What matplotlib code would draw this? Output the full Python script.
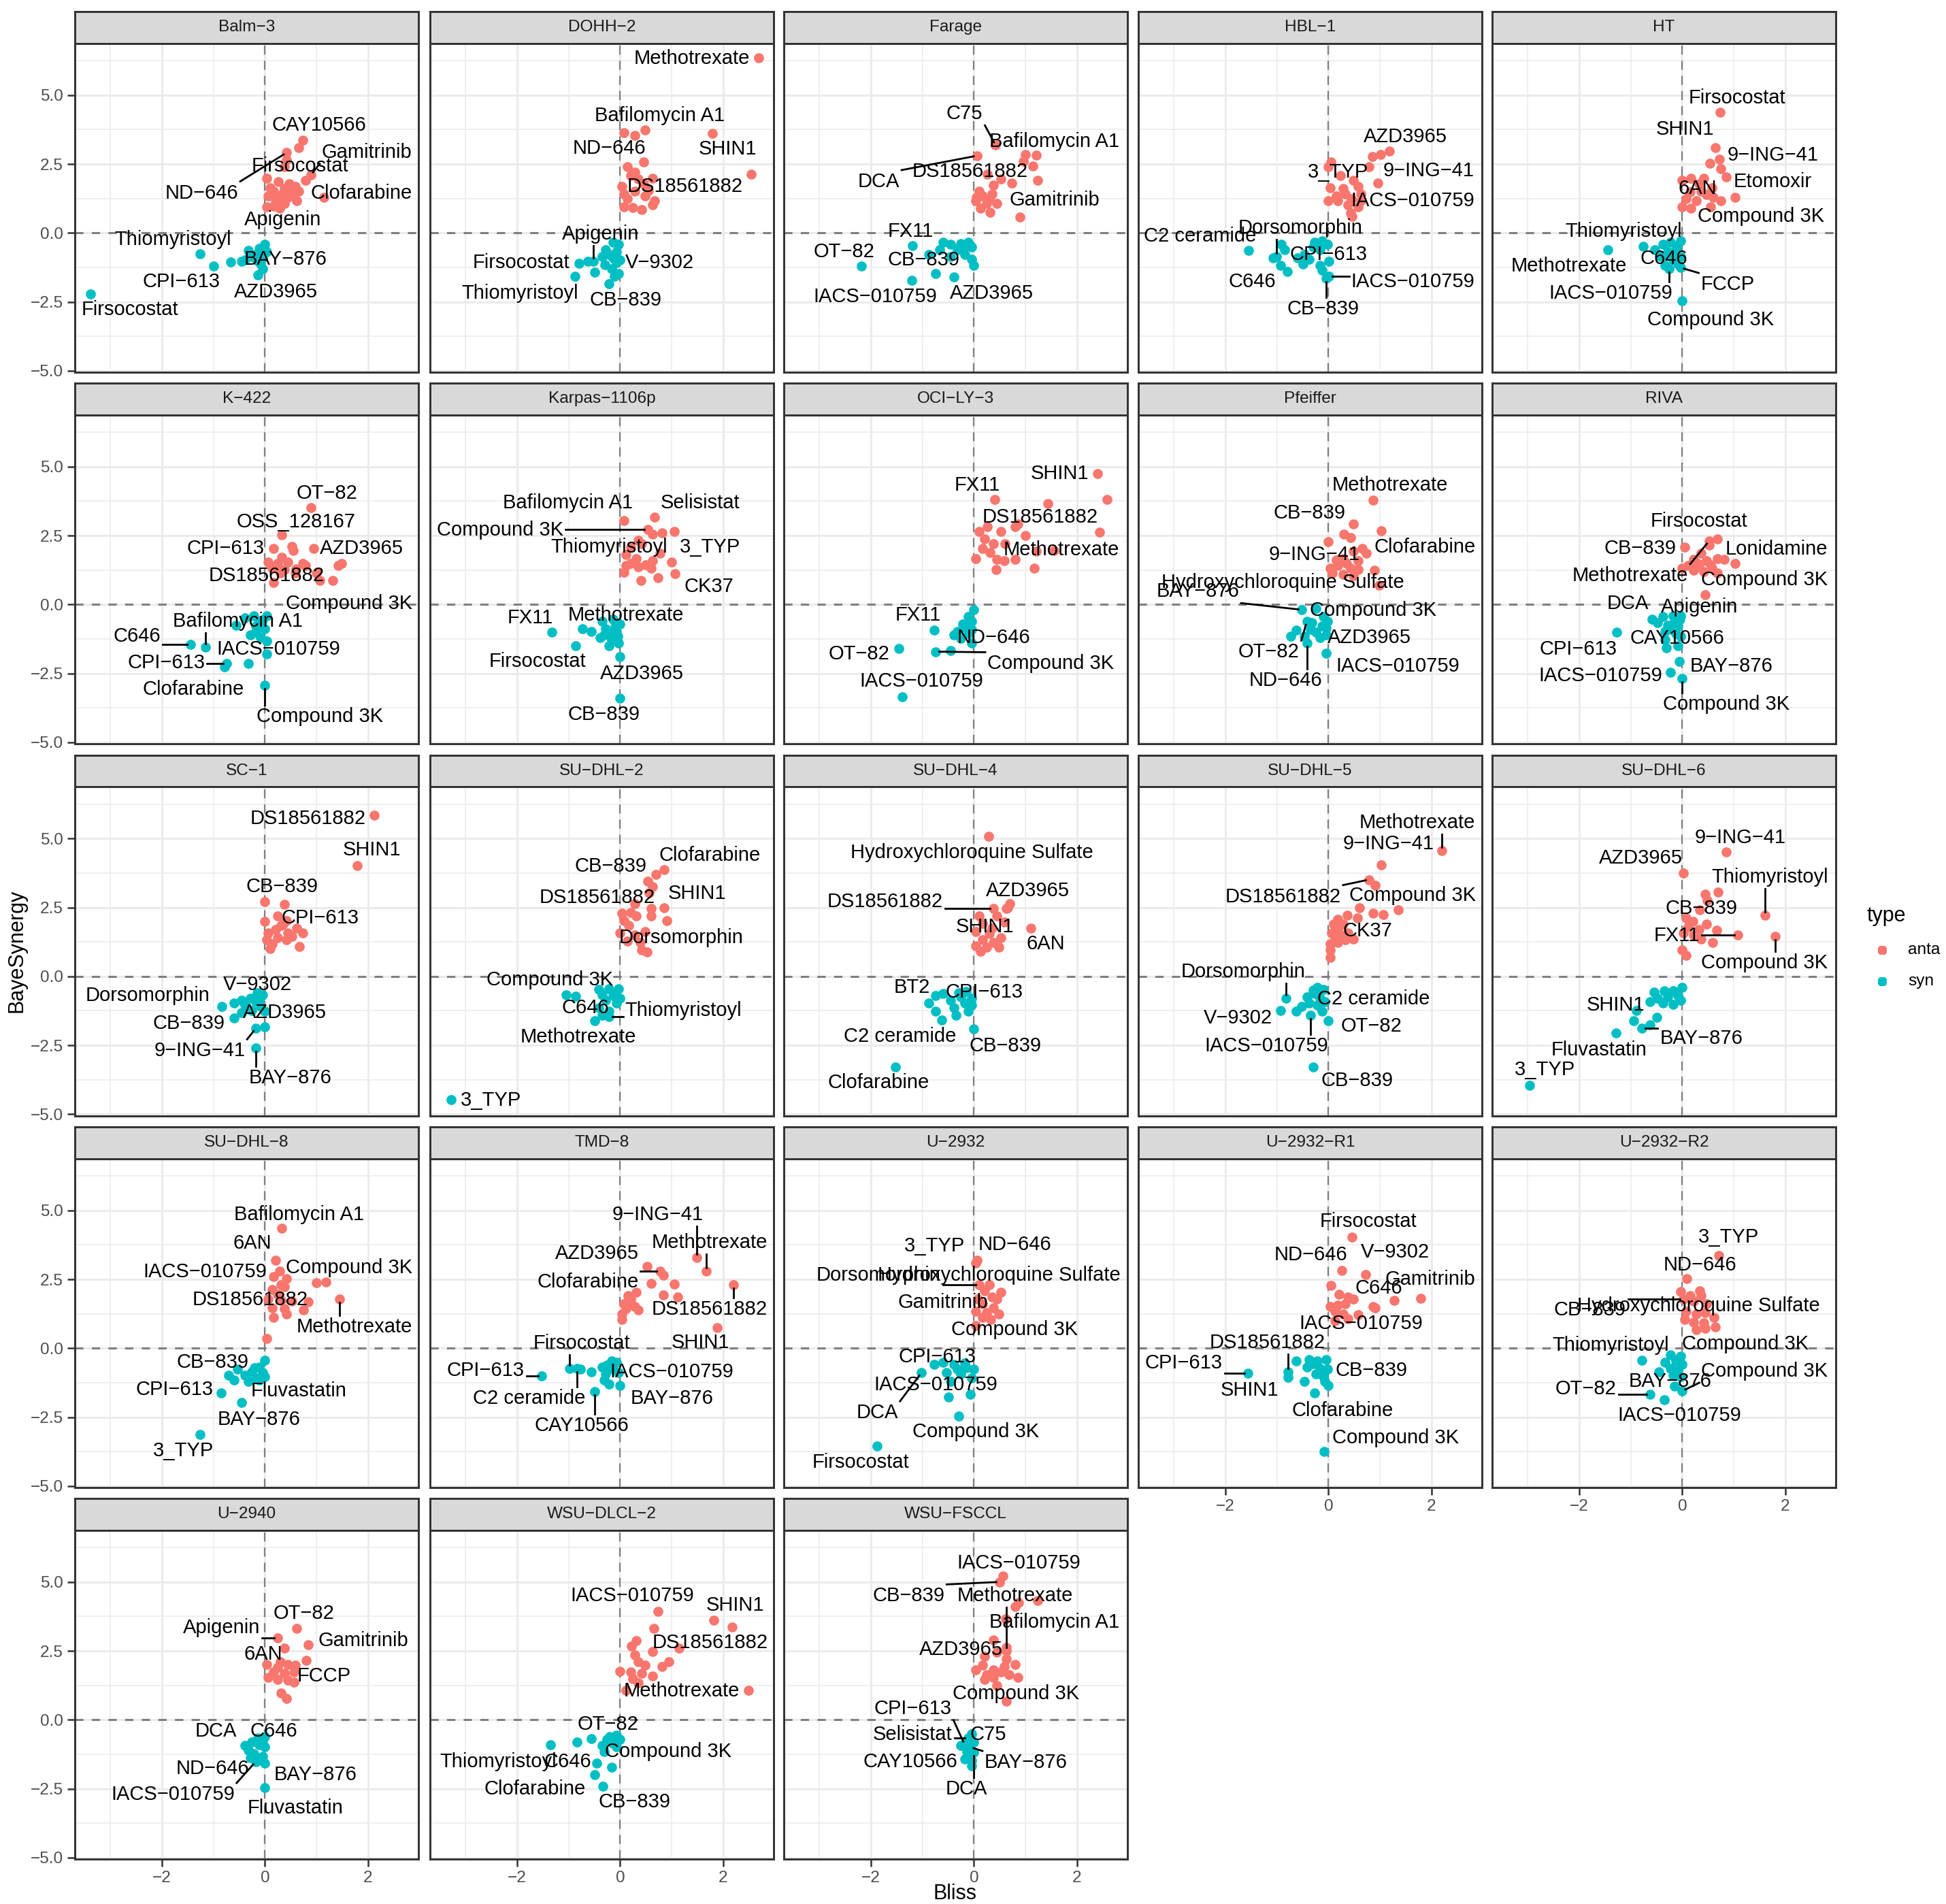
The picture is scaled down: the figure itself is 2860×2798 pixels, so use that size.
import matplotlib
matplotlib.use("Agg")
import matplotlib.pyplot as plt
import numpy as np

plt.rcParams['font.family'] = ['Liberation Sans', 'DejaVu Sans']

# ---------------- data ----------------
CELL_LINES = ["Balm-3", "DOHH-2", "Farage", "HBL-1", "HT", "K-422", "Karpas-1106p",
              "OCI-LY-3", "Pfeiffer", "RIVA", "SC-1", "SU-DHL-2", "SU-DHL-4",
              "SU-DHL-5", "SU-DHL-6", "SU-DHL-8", "TMD-8", "U-2932", "U-2932-R1",
              "U-2932-R2", "U-2940", "WSU-DLCL-2", "WSU-FSCCL"]
TYPES = ["anta", "syn"]
X_TICKS = [-2, 0, 2]
Y_TICKS = [-5.0, -2.5, 0.0, 2.5, 5.0]
Y_TICK_LABELS = ["-5.0", "-2.5", "0.0", "2.5", "5.0"]

# unlabeled points (Bliss, BayeSynergy)
ANTA = {
 "Balm-3": [(0.66,3.09),(0.38,2.39),(0.03,1.97),(0.26,1.86),(0.59,1.69),(0.79,1.91),(0.10,1.64),(0.17,1.51),(0.38,1.60),(0.52,1.47),(0.06,1.34),(0.28,1.25),(0.45,1.29),(0.61,1.16),(0.38,1.07),(0.17,0.98),(0.03,0.94),(0.47,1.78),(0.66,1.51),(0.20,1.20),(0.33,1.40)],
 "DOHH-2": [(0.28,3.53),(0.46,2.58),(0.14,2.39),(0.28,2.21),(0.21,2.08),(0.63,1.99),(0.03,1.69),(0.07,1.42),(0.28,1.51),(0.49,1.34),(0.14,1.25),(0.67,1.16),(0.63,1.03),(0.07,0.94),(0.25,0.91),(0.42,0.85),(2.54,2.14),(0.35,1.95),(0.55,1.55)],
 "Farage": [(1.21,2.83),(1.14,2.43),(0.96,2.61),(1.24,1.91),(0.73,1.82),(0.38,1.73),(0.10,1.51),(0.35,1.42),(0.17,1.34),(0.03,1.16),(0.24,1.07),(0.13,0.90),(0.31,0.76),(0.89,0.57),(0.52,1.95),(0.05,1.30),(0.30,1.20)],
 "HBL-1": [(1.01,2.85),(0.86,2.76),(0.00,2.39),(0.79,2.39),(0.23,2.08),(0.48,1.91),(0.03,1.64),(0.28,1.60),(0.58,1.69),(0.00,1.16),(0.18,1.16),(0.38,1.03),(0.58,0.94),(0.43,0.72),(0.46,0.59),(0.33,1.42),(0.63,1.42),(0.45,1.25),(0.15,1.35)],
 "HT": [(0.54,2.52),(0.75,2.33),(0.00,1.91),(0.42,1.99),(0.32,1.78),(0.57,1.64),(0.07,1.25),(0.27,1.16),(0.47,1.38),(0.75,1.16),(0.00,0.94),(0.17,0.90),(0.55,0.94),(0.37,1.51),(0.15,1.50),(0.60,1.30)],
 "K-422": [(0.52,2.11),(0.33,1.71),(0.06,1.54),(0.24,1.49),(0.45,1.54),(0.73,1.49),(0.79,1.41),(0.14,1.32),(0.38,1.27),(1.00,1.14),(1.49,1.49),(1.42,1.41),(0.17,0.79),(1.07,0.88),(0.55,1.95),(0.30,1.15),(0.60,1.30)],
 "Karpas-1106p": [(0.81,2.59),(0.63,2.55),(0.35,2.33),(0.42,2.20),(0.11,1.80),(0.31,1.67),(0.77,1.85),(1.00,1.54),(0.63,1.58),(0.11,1.41),(0.35,1.36),(0.60,1.32),(0.07,1.16),(0.73,0.97),(0.40,0.86),(0.20,1.50),(0.50,1.45)],
 "OCI-LY-3": [(2.58,3.81),(2.44,2.62),(0.10,2.64),(0.26,2.83),(0.52,2.64),(0.80,2.83),(0.86,2.92),(1.00,2.50),(0.21,2.37),(0.38,2.20),(0.17,2.02),(0.31,1.89),(0.03,1.67),(0.45,1.63),(0.80,1.63),(0.59,1.58),(0.43,1.27),(1.17,1.32),(1.21,1.93),(0.60,2.20)],
 "Pfeiffer": [(0.30,2.55),(0.43,2.42),(0.00,2.28),(0.66,2.02),(0.74,1.85),(0.48,1.93),(0.58,1.58),(0.89,1.23),(0.03,1.32),(0.18,1.41),(0.43,1.32),(0.58,1.27),(0.08,1.14),(0.28,1.10),(0.48,1.05),(0.35,1.50),(0.15,1.60)],
 "RIVA": [(0.52,2.16),(0.37,1.85),(0.22,1.63),(0.47,1.58),(0.68,1.67),(0.81,1.63),(0.12,1.41),(0.32,1.36),(0.57,1.32),(0.00,1.32),(0.22,1.23),(0.42,1.19),(0.68,1.14),(0.30,1.50),(0.55,1.45)],
 "SC-1": [(0.38,2.61),(0.00,2.00),(0.24,2.19),(0.31,1.84),(0.06,1.58),(0.20,1.71),(0.45,1.58),(0.61,1.75),(0.73,1.58),(0.03,1.32),(0.24,1.40),(0.42,1.32),(0.14,1.18),(0.10,1.01),(0.67,1.07),(0.52,1.45),(0.35,1.90)],
 "SU-DHL-2": [(0.53,3.44),(0.63,3.25),(0.56,3.03),(0.60,2.46),(0.03,2.28),(0.21,2.32),(0.31,2.19),(0.07,2.02),(0.60,2.19),(0.91,2.02),(0.17,1.84),(0.00,1.58),(0.28,1.49),(0.49,1.62),(0.14,1.27),(0.52,0.88),(0.42,0.96)],
 "SU-DHL-4": [(0.63,2.46),(0.45,2.19),(0.10,2.19),(0.59,1.97),(0.17,1.93),(0.03,1.62),(0.52,1.40),(0.17,1.32),(0.38,1.23),(0.03,1.10),(0.24,1.05),(0.49,1.05),(0.13,0.92),(0.66,2.50),(0.30,1.55)],
 "SU-DHL-5": [(0.60,2.50),(0.87,2.28),(1.07,2.24),(1.35,2.41),(0.36,2.21),(0.56,2.11),(0.18,2.06),(0.06,1.58),(0.18,1.71),(0.38,1.58),(0.13,1.40),(0.33,1.32),(0.48,1.36),(0.03,1.18),(0.18,1.23),(0.03,0.96),(0.03,0.68),(0.25,1.50),(0.10,1.90)],
 "SU-DHL-6": [(0.70,3.05),(0.45,2.98),(0.49,2.76),(0.07,2.11),(0.47,1.89),(0.12,1.80),(0.32,1.71),(0.67,1.67),(0.02,1.58),(0.22,1.49),(0.37,1.36),(0.59,1.23),(0.00,0.96),(0.07,0.75),(0.20,2.00)],
 "SU-DHL-8": [(1.19,2.41),(0.17,2.61),(0.42,2.53),(0.31,2.31),(0.14,2.13),(0.38,2.22),(0.06,1.78),(0.52,1.71),(0.84,1.69),(0.14,1.47),(0.38,1.43),(0.75,1.39),(0.42,1.25),(0.17,1.12),(0.03,0.35),(0.25,1.95)],
 "TMD-8": [(0.84,2.66),(0.60,2.35),(1.05,2.32),(0.31,2.04),(0.84,1.94),(1.12,1.87),(0.21,1.78),(0.07,1.61),(0.28,1.52),(0.11,1.43),(0.35,1.39),(0.03,1.25),(0.03,1.04),(0.20,1.65),(0.15,1.90)],
 "U-2932": [(0.52,2.04),(0.35,1.87),(0.07,1.78),(0.45,1.78),(0.17,1.61),(0.38,1.47),(0.03,1.34),(0.49,1.25),(0.17,1.12),(0.33,1.04),(0.30,2.30)],
 "U-2932-R1": [(0.05,2.29),(0.21,1.96),(0.38,1.87),(0.48,1.78),(0.03,1.52),(0.18,1.56),(0.33,1.61),(0.87,1.52),(0.13,1.34),(0.58,1.21),(0.38,1.08),(0.13,0.99),(0.91,1.47)],
 "U-2932-R2": [(0.15,1.91),(0.34,2.09),(0.37,1.91),(0.22,1.70),(0.47,1.61),(0.07,1.34),(0.27,1.25),(0.45,1.30),(0.62,1.12),(0.05,1.04),(0.22,0.95),(0.42,0.91),(0.64,0.77),(0.45,0.73)],
 "U-2940": [(0.80,2.16),(0.03,2.01),(0.24,1.92),(0.45,2.01),(0.17,1.73),(0.38,1.68),(0.59,1.97),(0.06,1.54),(0.24,1.46),(0.45,1.44),(0.56,1.36),(0.31,0.96),(0.42,0.77),(0.30,2.10)],
 "WSU-DLCL-2": [(2.17,3.37),(0.66,3.32),(0.31,2.87),(0.22,2.68),(0.63,2.47),(0.28,2.35),(0.35,2.11),(0.49,1.97),(0.95,2.11),(0.81,1.94),(0.00,1.75),(0.21,1.73),(0.42,1.68),(0.25,1.49),(0.63,1.58),(0.35,1.35),(0.11,1.06)],
 "WSU-FSCCL": [(0.80,4.10),(0.87,4.25),(0.61,3.65),(0.38,2.89),(0.21,2.30),(0.45,2.44),(0.63,2.20),(0.80,2.01),(0.17,1.97),(0.38,1.82),(0.59,1.94),(0.03,1.82),(0.24,1.63),(0.52,1.73),(0.68,1.63),(0.85,1.54),(0.21,1.46),(0.38,1.54),(0.45,1.25)],
}

SYN = {
 "Balm-3": [(0.00,-0.42),(-0.11,-0.55),(-0.32,-0.64),(0.03,-0.69),(-0.18,-0.77),(-0.39,-0.99),(-0.67,-1.05),(-0.46,-1.04),(-0.08,-1.12),(-0.04,-1.30),(-0.25,-0.85),(-0.02,-0.58),(-0.15,-1.00)],
 "DOHH-2": [(-0.14,-0.33),(-0.03,-0.42),(-0.28,-0.60),(-0.07,-0.69),(-0.21,-0.77),(-0.35,-0.86),(-0.14,-0.90),(0.00,-0.99),(-0.17,-1.30),(-0.03,-1.48),(-0.49,-1.43),(-0.11,-1.56),(-0.63,-1.04),(-0.30,-1.15)],
 "Farage": [(-0.60,-0.33),(-0.46,-0.42),(-0.67,-0.60),(-0.25,-0.38),(-0.11,-0.33),(-0.04,-0.51),(-0.32,-0.60),(-0.88,-0.77),(-0.18,-0.77),(-0.01,-1.17),(-0.04,-0.95),(-0.46,-0.86),(-0.20,-0.55)],
 "HBL-1": [(-0.91,-0.40),(-0.85,-0.60),(-0.27,-0.33),(-0.12,-0.29),(-0.02,-0.42),(-0.17,-0.60),(-0.37,-0.95),(-0.49,-1.12),(-0.93,-1.17),(-0.17,-1.17),(-0.12,-1.34),(0.01,-1.04),(-1.08,-0.90),(-0.30,-0.50),(-0.60,-0.90)],
 "HT": [(-0.53,-0.60),(-0.38,-0.42),(-0.23,-0.33),(-0.03,-0.29),(-0.28,-0.69),(-0.13,-0.60),(-0.43,-0.86),(-0.18,-0.99),(-0.03,-0.86),(-0.08,-1.12),(-0.33,-1.17),(-0.10,-0.45),(-0.20,-0.75)],
 "K-422": [(-0.22,-0.40),(0.03,-0.40),(-0.39,-0.48),(-0.11,-0.62),(-0.18,-0.79),(0.00,-0.88),(-0.28,-1.10),(-0.08,-1.19),(0.03,-1.32),(-0.32,-2.15),(0.03,-1.80),(-0.56,-0.75),(-0.05,-0.55)],
 "Karpas-1106p": [(-0.73,-0.88),(-0.56,-0.97),(-0.14,-0.53),(0.00,-0.70),(-0.28,-0.88),(-0.07,-0.97),(-0.39,-1.19),(-0.17,-1.27),(-0.03,-1.41),(-0.21,-1.49),(-0.31,-1.10),(-0.10,-0.80),(-0.20,-1.05),(-0.05,-1.15)],
 "OCI-LY-3": [(-0.11,-0.44),(-0.04,-0.62),(-0.01,-0.18),(-0.32,-0.97),(-0.39,-1.10),(-0.11,-1.06),(-0.25,-1.23),(-0.04,-1.41),(-0.46,-1.67),(-0.21,-0.70),(-0.05,-0.90)],
 "Pfeiffer": [(-0.10,-0.44),(-0.02,-0.62),(-0.32,-0.66),(-0.24,-1.01),(-0.47,-1.14),(-0.73,-1.14),(-0.62,-0.92),(-0.17,-1.19),(-0.04,-1.10),(-0.35,-0.90),(-0.05,-0.85)],
 "RIVA": [(-0.38,-0.44),(-0.18,-0.40),(-0.05,-0.53),(-0.48,-0.66),(-0.28,-0.75),(-0.08,-0.79),(-0.33,-0.97),(-0.03,-1.14),(-0.33,-1.27),(-0.08,-1.49),(-0.31,-1.58),(-0.15,-0.60),(-0.20,-0.90)],
 "SC-1": [(-0.28,-0.79),(-0.46,-0.88),(-0.60,-0.96),(-0.18,-0.92),(-0.39,-1.05),(-0.25,-1.23),(-0.46,-1.32),(0.00,-1.27),(-0.01,-1.84),(-0.10,-0.80),(-0.15,-0.60)],
 "SU-DHL-2": [(-0.86,-0.72),(-0.42,-0.48),(-0.21,-0.44),(-0.03,-0.44),(-0.35,-0.66),(-0.14,-0.70),(0.00,-0.79),(-0.28,-0.88),(-0.07,-0.96),(-0.21,-1.27),(-0.35,-1.40),(-0.10,-0.60)],
 "SU-DHL-4": [(-0.74,-0.70),(-0.60,-0.61),(-0.46,-0.88),(-0.04,-0.79),(-0.18,-0.96),(-0.39,-1.14),(-0.11,-1.27),(-0.74,-1.27),(-0.35,-1.40),(-0.04,-1.05),(-0.30,-0.60),(-0.15,-0.55)],
 "SU-DHL-5": [(-0.22,-0.39),(-0.10,-0.48),(-0.27,-0.61),(-0.17,-0.79),(-0.07,-0.92),(-0.37,-0.96),(-0.52,-1.10),(-0.62,-1.27),(-0.22,-1.05),(-0.12,-1.27),(-0.30,-0.50)],
 "SU-DHL-6": [(0.00,-0.39),(-0.18,-0.53),(-0.35,-0.53),(-0.55,-0.57),(-0.08,-0.70),(-0.28,-0.75),(-0.48,-0.79),(-0.63,-0.92),(-0.38,-0.96),(-0.18,-1.01),(-0.03,-0.88),(-0.50,-1.49),(-0.94,-1.60),(-0.63,-1.75),(-0.10,-0.60)],
 "SU-DHL-8": [(0.00,-0.43),(-0.53,-0.76),(-0.25,-0.85),(-0.70,-0.98),(-0.39,-0.98),(-0.18,-1.07),(-0.60,-1.16),(-0.32,-1.20),(0.00,-1.03),(-0.11,-1.16),(-0.20,-0.70)],
 "TMD-8": [(-0.77,-0.76),(-0.56,-0.85),(-0.35,-0.68),(-0.07,-0.50),(-0.28,-0.94),(-0.14,-0.76),(-0.31,-1.16),(-0.21,-1.29),(-0.03,-0.89),(-0.25,-0.60)],
 "U-2932": [(-0.77,-0.59),(-0.60,-0.50),(-0.18,-0.54),(-0.01,-0.76),(-0.53,-0.89),(-0.25,-0.94),(-0.04,-1.07),(-0.46,-1.20),(-0.07,-1.68),(-0.49,-1.77),(-0.15,-0.70)],
 "U-2932-R1": [(-0.62,-0.47),(-0.37,-0.41),(-0.22,-0.46),(-0.04,-0.41),(-0.42,-0.68),(-0.17,-0.72),(-0.24,-0.94),(-0.10,-1.03),(-0.47,-1.20),(-0.07,-1.20),(0.00,-1.34),(-0.30,-0.55)],
 "U-2932-R2": [(-0.23,-0.24),(-0.03,-0.28),(-0.33,-0.50),(-0.01,-0.59),(-0.23,-0.72),(-0.08,-0.81),(-0.45,-0.85),(-0.18,-0.99),(-0.03,-1.03),(-0.15,-1.38),(-0.10,-0.40)],
 "U-2940": [(-0.25,-0.80),(0.00,-0.61),(-0.11,-0.90),(0.00,-0.99),(-0.22,-1.23),(-0.04,-1.33),(-0.14,-1.44),(-0.28,-1.37),(-0.05,-0.75)],
 "WSU-DLCL-2": [(-0.84,-0.80),(-0.56,-0.68),(-0.25,-0.71),(0.00,-0.71),(-0.14,-0.85),(-0.31,-1.14),(-0.17,-1.71),(-0.07,-0.99),(-0.20,-0.60)],
 "WSU-FSCCL": [(-0.01,-0.80),(-0.07,-0.99),(-0.11,-1.33),(-0.04,-1.47),(-0.18,-1.42),(-0.04,-1.66),(-0.25,-0.94),(-0.10,-0.75)],
}

# labeled points: (drug, type, Bliss, BayeSynergy)
LABELS = {
 "Balm-3": [("CAY10566","anta",0.73,3.36),("Gamitrinib","anta",0.89,2.10),("Firsocostat","anta",0.42,2.65),("ND-646","anta",0.42,2.91),("Clofarabine","anta",1.14,1.29),("Apigenin","anta",0.28,0.90),
            ("Thiomyristoyl","syn",-1.26,-0.75),("CPI-613","syn",-1.00,-1.21),("BAY-876","syn",-0.04,-0.90),("AZD3965","syn",-0.14,-1.52),("Firsocostat","syn",-3.39,-2.21)],
 "DOHH-2": [("Methotrexate","anta",2.69,6.36),("Bafilomycin A1","anta",0.49,3.73),("ND-646","anta",0.08,3.64),("SHIN1","anta",1.79,3.62),("DS18561882","anta",0.46,1.78),
            ("Apigenin","syn",-0.52,-1.04),("Firsocostat","syn",-0.80,-1.10),("V-9302","syn",-0.07,-1.08),("Thiomyristoyl","syn",-0.88,-1.58),("CB-839","syn",-0.21,-1.85)],
 "Farage": [("C75","anta",0.42,3.18),("Bafilomycin A1","anta",1.00,2.84),("DCA","anta",0.06,2.80),("DS18561882","anta",0.26,2.13),("Gamitrinib","anta",0.45,1.07),
            ("FX11","syn",-1.20,-0.47),("OT-82","syn",-2.19,-1.21),("CB-839","syn",-0.74,-1.48),("IACS-010759","syn",-1.21,-1.72),("AZD3965","syn",-0.39,-1.59)],
 "HBL-1": [("AZD3965","anta",1.19,2.96),("3_TYP","anta",0.05,2.58),("9-ING-41","anta",0.96,1.82),("IACS-010759","anta",0.63,1.16),
           ("C2 ceramide","syn",-1.55,-0.64),("Dorsomorphin","syn",-1.01,-0.86),("CPI-613","syn",-0.47,-0.77),("C646","syn",-0.80,-1.39),("IACS-010759","syn",0.01,-1.56),("CB-839","syn",-0.04,-1.65)],
 "HT": [("Firsocostat","anta",0.74,4.37),("SHIN1","anta",0.64,3.09),("9-ING-41","anta",0.72,2.68),("Etomoxir","anta",0.85,2.04),("6AN","anta",0.17,1.99),("Compound 3K","anta",1.03,1.29),
        ("Thiomyristoyl","syn",-0.76,-0.49),("Methotrexate","syn",-1.44,-0.60),("C646","syn",-0.33,-0.80),("IACS-010759","syn",-0.26,-1.30),("FCCP","syn",-0.03,-1.26),("Compound 3K","syn",0.00,-2.47)],
 "K-422": [("OT-82","anta",0.89,3.51),("OSS_128167","anta",0.33,2.53),("CPI-613","anta",0.17,2.04),("AZD3965","anta",0.95,2.04),("DS18561882","anta",0.59,1.14),("Compound 3K","anta",1.32,0.86),
           ("Bafilomycin A1","syn",-1.16,-1.54),("C646","syn",-1.44,-1.45),("IACS-010759","syn",-0.18,-1.01),("CPI-613","syn",-0.74,-2.15),("Clofarabine","syn",-0.78,-2.25),("Compound 3K","syn",0.00,-2.93)],
 "Karpas-1106p": [("Bafilomycin A1","anta",0.08,3.05),("Selisistat","anta",0.67,3.16),("Compound 3K","anta",0.53,2.72),("Thiomyristoyl","anta",0.21,2.07),("3_TYP","anta",1.05,2.64),("CK37","anta",1.07,1.12),
                  ("FX11","syn",-1.32,-1.01),("Methotrexate","syn",-0.35,-0.62),("Firsocostat","syn",-0.86,-1.49),("AZD3965","syn",0.00,-1.89),("CB-839","syn",0.00,-3.40)],
 "OCI-LY-3": [("SHIN1","anta",2.40,4.75),("FX11","anta",0.40,3.80),("DS18561882","anta",1.44,3.66),("Methotrexate","anta",1.56,1.95),
              ("FX11","syn",-0.77,-0.92),("ND-646","syn",-0.18,-0.83),("OT-82","syn",-1.46,-1.60),("Compound 3K","syn",-0.74,-1.71),("IACS-010759","syn",-1.39,-3.34)],
 "Pfeiffer": [("Methotrexate","anta",0.87,3.78),("CB-839","anta",0.48,2.92),("Clofarabine","anta",1.02,2.68),("9-ING-41","anta",0.28,1.67),("Hydroxychloroquine Sulfate","anta",0.99,0.70),
              ("BAY-876","syn",-0.52,-0.19),("Compound 3K","syn",-0.24,-0.13),("AZD3965","syn",-0.12,-0.79),("OT-82","syn",-0.42,-0.62),("ND-646","syn",-0.42,-1.41),("IACS-010759","syn",-0.04,-1.76)],
 "RIVA": [("Firsocostat","anta",0.68,2.37),("CB-839","anta",0.05,2.09),("Lonidamine","anta",1.03,1.49),("Methotrexate","anta",0.52,2.30),("Compound 3K","anta",0.45,0.35),
          ("DCA","syn",-0.58,-0.53),("Apigenin","syn",-0.03,-0.40),("CAY10566","syn",-0.13,-1.05),("CPI-613","syn",-1.27,-1.01),("IACS-010759","syn",-0.23,-2.46),("BAY-876","syn",-0.06,-2.07),("Compound 3K","syn",0.00,-2.68)],
 "SC-1": [("DS18561882","anta",2.12,5.85),("SHIN1","anta",1.79,4.02),("CB-839","anta",0.00,2.72),("CPI-613","anta",0.42,2.02),
          ("V-9302","syn",-0.04,-0.66),("Dorsomorphin","syn",-0.84,-1.10),("AZD3965","syn",-0.08,-1.10),("CB-839","syn",-0.60,-1.52),("9-ING-41","syn",-0.18,-1.89),("BAY-876","syn",-0.18,-2.59)],
 "SU-DHL-2": [("Clofarabine","anta",0.86,3.86),("CB-839","anta",0.70,3.70),("SHIN1","anta",0.86,2.50),("DS18561882","anta",0.28,2.63),("Dorsomorphin","anta",0.39,1.23),
              ("Compound 3K","syn",-1.05,-0.68),("C646","syn",-0.42,-1.14),("Thiomyristoyl","syn",-0.21,-1.45),("Methotrexate","syn",-0.49,-1.62),("3_TYP","syn",-3.28,-4.47)],
 "SU-DHL-4": [("Hydroxychloroquine Sulfate","anta",0.28,5.07),("AZD3965","anta",0.70,2.63),("DS18561882","anta",0.38,2.46),("SHIN1","anta",0.35,1.75),("6AN","anta",1.10,1.75),
              ("BT2","syn",-0.88,-0.96),("CPI-613","syn",-0.25,-0.75),("C2 ceramide","syn",-0.63,-1.58),("CB-839","syn",-0.01,-1.91),("Clofarabine","syn",-1.53,-3.29)],
 "SU-DHL-5": [("Methotrexate","anta",2.20,4.56),("9-ING-41","anta",1.03,4.04),("DS18561882","anta",0.79,3.51),("Compound 3K","anta",0.91,3.29),("CK37","anta",0.28,1.89),
              ("Dorsomorphin","syn",-0.83,-0.79),("C2 ceramide","syn",-0.42,-0.75),("V-9302","syn",-0.93,-1.23),("OT-82","syn",0.00,-1.62),("IACS-010759","syn",-0.35,-1.42),("CB-839","syn",-0.30,-3.29)],
 "SU-DHL-6": [("9-ING-41","anta",0.85,4.52),("AZD3965","anta",0.02,3.75),("Thiomyristoyl","anta",1.60,2.21),("CB-839","anta",0.34,2.41),("FX11","anta",1.08,1.49),("Compound 3K","anta",1.80,1.45),
              ("SHIN1","syn",-0.89,-1.23),("BAY-876","syn",-0.79,-1.89),("Fluvastatin","syn",-1.29,-2.06),("3_TYP","syn",-2.97,-3.95)],
 "SU-DHL-8": [("Bafilomycin A1","anta",0.33,4.34),("6AN","anta",0.21,3.20),("IACS-010759","anta",0.28,2.79),("Compound 3K","anta",1.00,2.38),("DS18561882","anta",0.31,1.74),("Methotrexate","anta",1.45,1.78),
              ("CB-839","syn",-0.11,-0.68),("CPI-613","syn",-0.85,-1.61),("Fluvastatin","syn",-0.04,-0.89),("BAY-876","syn",-0.45,-1.96),("3_TYP","syn",-1.26,-3.13)],
 "TMD-8": [("9-ING-41","anta",1.49,3.29),("Methotrexate","anta",1.67,2.79),("AZD3965","anta",0.52,2.98),("Clofarabine","anta",0.77,2.79),("DS18561882","anta",2.20,2.31),("SHIN1","anta",1.88,0.75),
           ("Firsocostat","syn",-0.98,-0.72),("CPI-613","syn",-1.53,-1.01),("IACS-010759","syn",-0.17,-0.46),("C2 ceramide","syn",-0.84,-0.72),("CAY10566","syn",-0.49,-1.58),("BAY-876","syn",0.00,-1.36)],
 "U-2932": [("3_TYP","anta",0.06,3.20),("ND-646","anta",0.03,3.10),("Dorsomorphin","anta",0.10,2.31),("Hydroxychloroquine Sulfate","anta",0.21,2.09),("Gamitrinib","anta",0.24,1.30),("Compound 3K","anta",0.03,0.82),
            ("CPI-613","syn",-0.39,-0.59),("IACS-010759","syn",-0.32,-0.76),("DCA","syn",-1.02,-0.89),("Compound 3K","syn",-0.29,-2.45),("Firsocostat","syn",-1.88,-3.55)],
 "U-2932-R1": [("Firsocostat","anta",0.46,4.02),("ND-646","anta",0.26,2.83),("V-9302","anta",0.72,2.68),("Gamitrinib","anta",1.79,1.80),("C646","anta",1.27,1.74),("IACS-010759","anta",0.28,1.25),
               ("DS18561882","syn",-0.78,-0.85),("CPI-613","syn",-1.56,-0.91),("SHIN1","syn",-0.78,-1.05),("CB-839","syn",-0.02,-0.76),("Clofarabine","syn",-0.27,-1.62),("Compound 3K","syn",-0.09,-3.73)],
 "U-2932-R2": [("3_TYP","anta",0.71,3.37),("ND-646","anta",0.09,2.53),("CB-839","anta",0.02,1.78),("Hydroxychloroquine Sulfate","anta",-0.03,2.06),("Compound 3K","anta",0.27,0.68),
               ("Thiomyristoyl","syn",-0.79,-0.44),("Compound 3K","syn",0.00,-1.55),("BAY-876","syn",-0.13,-0.46),("OT-82","syn",-0.63,-1.67),("IACS-010759","syn",-0.35,-1.86)],
 "U-2940": [("OT-82","anta",0.61,3.32),("Apigenin","anta",0.24,2.97),("Gamitrinib","anta",0.84,2.73),("6AN","anta",0.38,2.59),("FCCP","anta",0.56,1.73),
            ("DCA","syn",-0.39,-0.94),("C646","syn",-0.14,-0.66),("ND-646","syn",-0.32,-1.09),("BAY-876","syn",0.00,-1.56),("IACS-010759","syn",-0.18,-1.52),("Fluvastatin","syn",0.00,-2.45)],
 "WSU-DLCL-2": [("IACS-010759","anta",0.73,3.94),("SHIN1","anta",1.82,3.62),("DS18561882","anta",1.15,2.60),("Methotrexate","anta",2.49,1.06),
                ("OT-82","syn",-0.07,-0.56),("Compound 3K","syn",-0.35,-0.94),("Thiomyristoyl","syn",-1.35,-0.90),("C646","syn",-0.45,-1.56),("Clofarabine","syn",-0.49,-1.98),("CB-839","syn",-0.34,-2.40)],
 "WSU-FSCCL": [("IACS-010759","anta",0.56,5.22),("CB-839","anta",0.50,5.00),("Methotrexate","anta",0.63,2.50),("Bafilomycin A1","anta",1.24,4.32),("AZD3965","anta",0.63,2.62),("Compound 3K","anta",0.63,0.68),
               ("CPI-613","syn",-0.18,-0.90),("Selisistat","syn",-0.11,-0.66),("C75","syn",-0.04,-0.52),("CAY10566","syn",-0.14,-1.14),("BAY-876","syn",-0.07,-0.99),("DCA","syn",-0.01,-1.18)],
}

# repelled label text positions (data units), aligned with LABELS
LABEL_POS = {
 "Balm-3": [(1.05,3.90),(1.98,2.93),(0.68,2.43),(-1.23,1.45),(1.87,1.45),(0.35,0.48),(-1.79,-0.25),(-1.62,-1.78),(0.40,-0.95),(0.21,-2.14),(-2.62,-2.79)],
 "DOHH-2": [(1.39,6.33),(0.77,4.25),(-0.21,3.08),(2.09,3.05),(1.26,1.69),(-0.38,-0.05),(-1.92,-1.08),(0.77,-1.08),(-1.95,-2.20),(0.11,-2.44)],
 "Farage": [(-0.18,4.32),(1.56,3.31),(-1.85,1.86),(-0.08,2.23),(1.56,1.20),(-1.23,0.06),(-2.52,-0.69),(-0.98,-0.99),(-1.92,-2.31),(0.35,-2.20)],
 "HBL-1": [(1.49,3.49),(0.18,2.20),(1.94,2.26),(1.64,1.16),(-2.49,-0.11),(-0.54,0.19),(0.00,-0.77),(-1.48,-1.77),(1.64,-1.77),(-0.10,-2.75)],
 "HT": [(1.06,4.89),(0.05,3.75),(1.76,2.83),(1.76,1.85),(0.30,1.60),(1.53,0.59),(-1.14,0.06),(-2.20,-1.19),(-0.36,-0.93),(-1.39,-2.18),(0.88,-1.87),(0.55,-3.16)],
 "K-422": [(1.21,4.04),(0.61,3.00),(-0.77,2.02),(1.87,2.02),(0.03,1.05),(1.63,0.04),(-0.53,-0.62),(-2.48,-1.14),(0.26,-1.61),(-1.92,-2.11),(-1.39,-3.08),(1.07,-4.06)],
 "Karpas-1106p": [(-1.02,3.69),(1.56,3.69),(-2.33,2.70),(-0.21,2.07),(1.74,2.07),(1.72,0.66),(-1.74,-0.48),(0.11,-0.38),(-1.60,-2.06),(0.42,-2.50),(-0.31,-4.00)],
 "OCI-LY-3": [(1.66,4.75),(0.06,4.32),(1.28,3.16),(1.70,1.98),(-1.09,-0.38),(0.38,-1.19),(-2.23,-1.80),(1.49,-2.15),(-1.02,-2.79)],
 "Pfeiffer": [(1.19,4.32),(-0.37,3.32),(1.87,2.09),(-0.27,1.80),(-0.88,0.79),(-2.54,0.47),(0.87,-0.22),(0.79,-1.21),(-1.16,-1.73),(-0.83,-2.75),(1.34,-2.24)],
 "RIVA": [(0.32,3.03),(-0.82,2.02),(1.83,2.00),(-1.01,1.05),(1.60,0.90),(-1.06,0.04),(0.34,-0.09),(-0.10,-1.23),(-2.02,-1.61),(-1.59,-2.59),(0.96,-2.24),(0.85,-3.62)],
 "SC-1": [(0.84,5.72),(2.08,4.58),(0.33,3.26),(1.07,2.12),(-0.14,-0.31),(-2.27,-0.70),(0.38,-1.30),(-1.48,-1.71),(-1.27,-2.70),(0.49,-3.67)],
 "SU-DHL-2": [(1.74,4.39),(-0.18,3.99),(1.49,3.01),(-0.45,2.85),(1.19,1.40),(-1.37,-0.13),(-0.67,-1.14),(1.23,-1.23),(-0.81,-2.21),(-2.51,-4.50)],
 "SU-DHL-4": [(-0.04,4.49),(1.05,3.11),(-1.72,2.72),(0.21,1.80),(1.39,1.18),(-1.20,-0.39),(0.20,-0.57),(-1.44,-2.18),(0.61,-2.52),(-1.85,-3.86)],
 "SU-DHL-5": [(1.72,5.57),(1.16,4.80),(-0.88,2.89),(1.64,2.94),(0.76,1.65),(-1.65,0.18),(0.87,-0.83),(-1.75,-1.52),(0.84,-1.80),(-1.20,-2.53),(0.56,-3.79)],
 "SU-DHL-6": [(1.13,5.04),(-0.81,4.30),(1.70,3.60),(0.37,2.46),(-0.11,1.47),(1.60,0.48),(-1.29,-1.05),(0.37,-2.24),(-1.61,-2.66),(-2.67,-3.38)],
 "SU-DHL-8": [(0.66,4.85),(-0.25,3.80),(-1.16,2.76),(1.63,2.92),(-0.28,1.76),(1.73,0.77),(-1.02,-0.50),(-1.76,-1.49),(0.66,-1.54),(-0.11,-2.58),(-1.58,-3.72)],
 "TMD-8": [(0.73,4.85),(1.74,3.84),(-0.45,3.43),(-0.63,2.39),(1.74,1.41),(1.56,0.20),(-0.74,0.18),(-2.61,-0.81),(1.00,-0.85),(-1.77,-1.82),(-0.74,-2.80),(1.00,-1.82)],
 "U-2932": [(-0.77,3.71),(0.79,3.75),(-1.85,2.64),(0.49,2.66),(-0.60,1.65),(0.79,0.68),(-0.71,-0.31),(-0.74,-1.33),(-1.88,-2.34),(0.03,-3.02),(-2.20,-4.14)],
 "U-2932-R1": [(0.77,4.59),(-0.34,3.39),(1.29,3.49),(1.97,2.51),(0.97,2.19),(0.63,0.89),(-1.18,0.20),(-2.81,-0.53),(-1.53,-1.51),(0.84,-0.81),(0.28,-2.26),(1.31,-3.26)],
 "U-2932-R2": [(0.90,4.02),(0.35,3.01),(-1.79,1.39),(0.32,1.54),(1.23,0.16),(-1.39,0.11),(1.60,-0.83),(-0.23,-1.19),(-1.87,-1.47),(-0.05,-2.43)],
 "U-2940": [(0.75,3.85),(-0.84,3.35),(1.91,2.87),(-0.04,2.38),(1.15,1.58),(-0.95,-0.42),(0.17,-0.42),(-1.02,-1.76),(0.98,-1.98),(-1.79,-2.71),(0.59,-3.19)],
 "WSU-DLCL-2": [(0.24,4.49),(2.23,4.16),(1.75,2.80),(1.19,1.04),(-0.24,-0.16),(0.94,-1.16),(-2.37,-1.52),(-1.02,-1.52),(-1.65,-2.50),(0.28,-2.97)],
 "WSU-FSCCL": [(0.87,5.69),(-1.27,4.49),(0.80,4.51),(1.56,3.54),(-0.25,2.54),(0.82,0.94),(-1.19,0.41),(-1.19,-0.54),(0.27,-0.54),(-1.23,-1.52),(1.01,-1.55),(-0.14,-2.52)],
}

# ---------------- layout / style ----------------
W, H, DPI = 2860, 2798, 200
COLORS = {"anta": "#F8766D", "syn": "#00BFC4"}
XLIM = (-3.69, 2.98)
YLIM = (-5.05, 6.88)
COL_LEFT = [110, 632, 1152, 1673, 2193]
ROW_TOP = [17, 563, 1109.5, 1656, 2202]
PW, PH, STRIP_H = 505, 483.5, 46.5
MINUS = "\u2212"

fig = plt.figure(figsize=(W / DPI, H / DPI), dpi=DPI)
fig.patch.set_facecolor("white")


def add_px_axes(left, top, w, h):
    return fig.add_axes([left / W, 1 - (top + h) / H, w / W, h / H])


n = len(CELL_LINES)
label_records = []
for i, cell in enumerate(CELL_LINES):
    r, c = divmod(i, 5)
    left = COL_LEFT[c]
    top = ROW_TOP[r]
    # strip
    sax = add_px_axes(left, top, PW, STRIP_H)
    sax.set_facecolor("#D9D9D9")
    sax.set_xticks([]); sax.set_yticks([])
    for sp in sax.spines.values():
        sp.set_color("#333333"); sp.set_linewidth(1.07)
    sax.text(0.5, 0.5, cell.replace("-", MINUS), ha="center", va="center",
             fontsize=8.8, color="#1A1A1A", transform=sax.transAxes)
    # panel
    ax = add_px_axes(left, top + STRIP_H, PW, PH)
    ax.set_facecolor("white")
    ax.set_xlim(*XLIM); ax.set_ylim(*YLIM)
    ax.set_xticks(X_TICKS)
    ax.set_xticks([-3, -1, 1], minor=True)
    ax.set_yticks(Y_TICKS)
    ax.set_yticks([-3.75, -1.25, 1.25, 3.75, 6.25], minor=True)
    ax.grid(which="major", color="#EBEBEB", lw=1.07)
    ax.grid(which="minor", color="#EBEBEB", lw=0.55)
    ax.set_axisbelow(True)
    for sp in ax.spines.values():
        sp.set_color("#333333"); sp.set_linewidth(1.07)
    ax.tick_params(which="minor", length=0)
    bottom_row = (i + 5 >= n)
    left_col = (c == 0)
    ax.tick_params(axis="x", which="major", length=3.8 if bottom_row else 0,
                   width=0.9, color="#333333", labelsize=8.8, labelcolor="#4D4D4D",
                   labelbottom=bottom_row, pad=2.5)
    ax.tick_params(axis="y", which="major", length=3.8 if left_col else 0,
                   width=0.9, color="#333333", labelsize=8.8, labelcolor="#4D4D4D",
                   labelleft=left_col, pad=2.5)
    ax.set_xticklabels([str(v).replace("-", MINUS) for v in X_TICKS])
    ax.set_yticklabels([s.replace("-", MINUS) for s in Y_TICK_LABELS])

    ax.axhline(0, color="#7F7F7F", lw=1.1, ls=(0, (4, 4)), zorder=1.5)
    ax.axvline(0, color="#7F7F7F", lw=0.8, ls=(0, (6, 4)), zorder=1.5)

    for t, pts in (("anta", ANTA[cell]), ("syn", SYN[cell])):
        xs = [p[0] for p in pts]; ys = [p[1] for p in pts]
        ax.scatter(xs, ys, s=28, c=COLORS[t], lw=0, zorder=2)
    for (name, t, x, y), (tx, ty) in zip(LABELS[cell], LABEL_POS[cell]):
        ax.scatter([x], [y], s=28, c=COLORS[t], lw=0, zorder=2)
        txt = ax.text(tx, ty, name.replace("-", MINUS), ha="center", va="center",
                      fontsize=10.5, color="black", zorder=4, clip_on=False)
        label_records.append((ax, txt, x, y))

# axis titles
fig.text(1404 / W, 1 - 2783 / H, "Bliss", ha="center", va="center", fontsize=11)
fig.text(25 / W, 1 - 1397 / H, "BayeSynergy", ha="center", va="center",
         rotation=90, fontsize=11)

# legend
fig.text(2743 / W, 1 - 1346 / H, "type", ha="left", va="center", fontsize=11)
for k, t in enumerate(TYPES):
    yy = 1396 + k * 46
    fig.text(2804 / W, 1 - yy / H, t, ha="left", va="center", fontsize=8.8)
    lax = fig.add_axes([2766 / W - 0.002, 1 - yy / H - 0.002, 0.004, 0.004])
    lax.set_axis_off()
    lax.scatter([0], [0], s=28, c=COLORS[t], lw=0)
    lax.set_xlim(-1, 1); lax.set_ylim(-1, 1)

# label segments (point -> nearest edge of label box)
fig.canvas.draw()
renderer = fig.canvas.get_renderer()
for ax, txt, x, y in label_records:
    bb = txt.get_window_extent(renderer)
    pad = 3
    x0, x1, y0, y1 = bb.x0 - pad, bb.x1 + pad, bb.y0 - pad, bb.y1 + pad
    px, py = ax.transData.transform((x, y))
    cx = min(max(px, x0), x1)
    cy = min(max(py, y0), y1)
    d = np.hypot(px - cx, py - cy)
    if d > 18:
        ux, uy = (cx - px) / d, (cy - py) / d
        sx, sy = px + ux * 5, py + uy * 5
        inv = ax.transData.inverted()
        a = inv.transform((sx, sy)); b = inv.transform((cx, cy))
        ax.plot([a[0], b[0]], [a[1], b[1]], color="black", lw=1.0, zorder=3,
                clip_on=False)

fig.savefig("out.png", dpi=DPI, facecolor="white")
